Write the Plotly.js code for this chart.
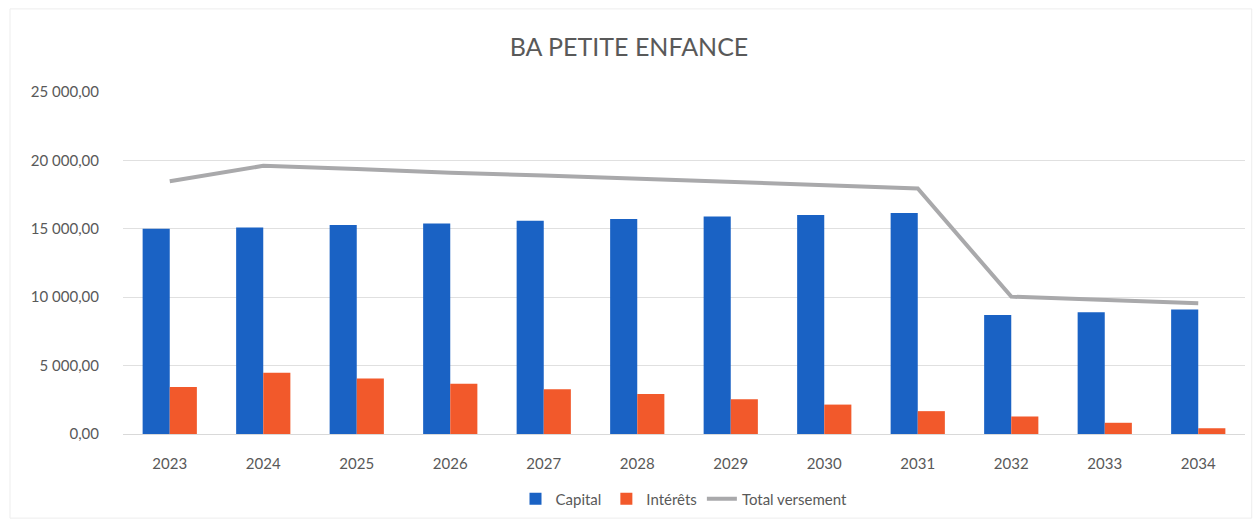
<!DOCTYPE html>
<html>
<head>
<meta charset="utf-8">
<script src="https://cdn.plot.ly/plotly-3.0.1.min.js"></script>
<style>html,body{margin:0;padding:0;background:#fff;}#chart{width:1258px;height:528px;}</style>
</head>
<body>
<div id="chart"></div>
<script>
const years = ["2023","2024","2025","2026","2027","2028","2029","2030","2031","2032","2033","2034"];
const capital = [15000,15090,15270,15380,15580,15720,15890,16010,16150,8700,8900,9100];
const interets = [3430,4470,4060,3670,3280,2920,2540,2150,1670,1280,820,420];
const totalVersement = [18480,19600,19380,19100,18900,18680,18450,18200,17950,10040,9780,9560];
const yTicks = [0,5000,10000,15000,20000,25000];

const traces = [
  {type:'bar', name:'Capital', x:years, y:capital, marker:{color:'#1a62c4'}},
  {type:'bar', name:'Intérêts', x:years, y:interets, marker:{color:'#f2592b'}},
  {type:'scatter', mode:'lines', name:'Total versement', x:years, y:totalVersement,
   line:{color:'#a9a9ab', width:4}}
];
const layout = {
  width:1258, height:528,
  margin:{l:123, r:13, t:92, b:91},
  paper_bgcolor:'#fff', plot_bgcolor:'#fff',
  separators:', ',
  font:{family:'Lato, "Open Sans", sans-serif', size:15, color:'#595959'},
  title:{text:'BA PETITE ENFANCE', font:{size:25, color:'#595959'}, x:0.5, xanchor:'center', y:0.91, yanchor:'middle'},
  barmode:'group', bargap:0.42, bargroupgap:0,
  xaxis:{type:'category', showgrid:false, zeroline:false, showline:false,
         ticks:'outside', ticklen:16, tickcolor:'rgba(0,0,0,0)', tickfont:{size:15, color:'#595959'}},
  yaxis:{range:[0,25000], tickvals:yTicks, tickformat:',.2f', gridcolor:'#e0e0e0', gridwidth:1,
         zeroline:true, zerolinecolor:'#d9d9d9', showline:false,
         ticks:'outside', ticklen:20, tickcolor:'rgba(0,0,0,0)',
         tickfont:{size:15, color:'#595959'}, automargin:false},
  legend:{orientation:'h', x:0.5, xanchor:'center', y:-0.19, yanchor:'middle', font:{size:15, color:'#595959'}, traceorder:'normal'},
  showlegend:true,
  shapes:[{type:'rect', xref:'paper', yref:'paper', x0:-0.1007, x1:1.006, y0:-0.246, y1:1.243,
           line:{color:'#ededed', width:1}, fillcolor:'rgba(0,0,0,0)'}]
};
Plotly.newPlot('chart', traces, layout, {displayModeBar:false, staticPlot:true});
</script>
</body>
</html>
